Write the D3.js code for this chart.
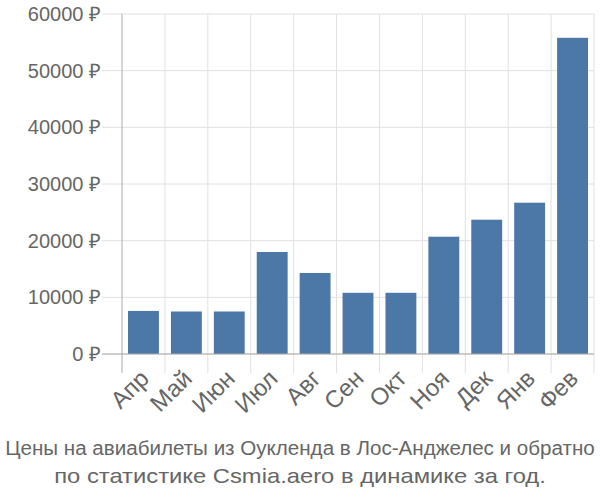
<!DOCTYPE html>
<html><head><meta charset="utf-8">
<script src="https://cdn.jsdelivr.net/npm/d3@7"></script>
<style>body{margin:0;background:#fff}svg{display:block}</style>
</head><body>
<svg id="c" width="600" height="500"></svg>
<script>
const categories = ["Апр","Май","Июн","Июл","Авг","Сен","Окт","Ноя","Дек","Янв","Фев"];
const values = [7600,7500,7500,18000,14300,10800,10800,20700,23700,26700,55800];
const yTicks = [0,10000,20000,30000,40000,50000,60000];
const titleLines = ["Цены на авиабилеты из Оукленда в Лос-Анджелес и обратно","по статистике Csmia.aero в динамике за год."];

const svg = d3.select("#c");
const L = 122, R = 594, T = 14, B = 354;
const x = d3.scaleBand().domain(categories).range([L, R]).paddingInner(0.28).paddingOuter(0.14);
const xb = d3.scaleLinear().domain([0, categories.length]).range([L, R]);
const y = d3.scaleLinear().domain([0, 60000]).range([B, T]);
const font = "'Liberation Sans', Arial, sans-serif";

// horizontal grid + y ticks
svg.append("g").selectAll("line").data(yTicks).join("line")
  .attr("x1", L - 20).attr("x2", R).attr("y1", d => y(d)).attr("y2", d => y(d))
  .attr("stroke", "#e0e0e0").attr("stroke-width", 1);
// vertical grid at band boundaries
svg.append("g").selectAll("line").data(d3.range(1, categories.length + 1)).join("line")
  .attr("x1", d => xb(d)).attr("x2", d => xb(d)).attr("y1", T).attr("y2", B + 19)
  .attr("stroke", "#e0e0e0").attr("stroke-width", 1);

// bars
svg.append("g").selectAll("rect").data(values).join("rect")
  .attr("x", (d, i) => x(categories[i])).attr("width", x.bandwidth())
  .attr("y", d => y(d)).attr("height", d => B - y(d))
  .attr("fill", "#4c78a8");

// axes lines
svg.append("line").attr("x1", L).attr("x2", L).attr("y1", T).attr("y2", B + 19).attr("stroke", "#aaa").attr("stroke-width", 1);
svg.append("line").attr("x1", L - 20).attr("x2", R).attr("y1", B).attr("y2", B).attr("stroke", "#aaa").attr("stroke-width", 1.2);

// y labels
svg.append("g").selectAll("text").data(yTicks).join("text")
  .attr("x", L - 21).attr("y", d => y(d)).attr("dy", "0.35em")
  .attr("text-anchor", "end").attr("font-family", font).attr("font-size", 20)
  .attr("fill", "#666").text(d => d + " ₽");

// x labels
svg.append("g").selectAll("text").data(categories).join("text")
  .attr("transform", d => `translate(${x(d) + x.bandwidth() / 2 + 7},${B + 26}) rotate(-45)`)
  .attr("text-anchor", "end").attr("font-family", font).attr("font-size", 24)
  .attr("fill", "#666").text(d => d);

// title, horizontally scaled to the reference widths
const titleSpecs = [{y: 455, w: 590}, {y: 483, w: 492}];
titleLines.forEach((t, i) => {
  const g = svg.append("g");
  const txt = g.append("text").attr("x", 0).attr("y", 0).attr("text-anchor", "middle")
    .attr("font-family", font).attr("font-size", 21).attr("fill", "#666").text(t);
  const w = txt.node().getComputedTextLength();
  const sx = titleSpecs[i].w / w;
  g.attr("transform", `translate(300,${titleSpecs[i].y}) scale(${sx},1)`);
});
</script>
</body></html>
